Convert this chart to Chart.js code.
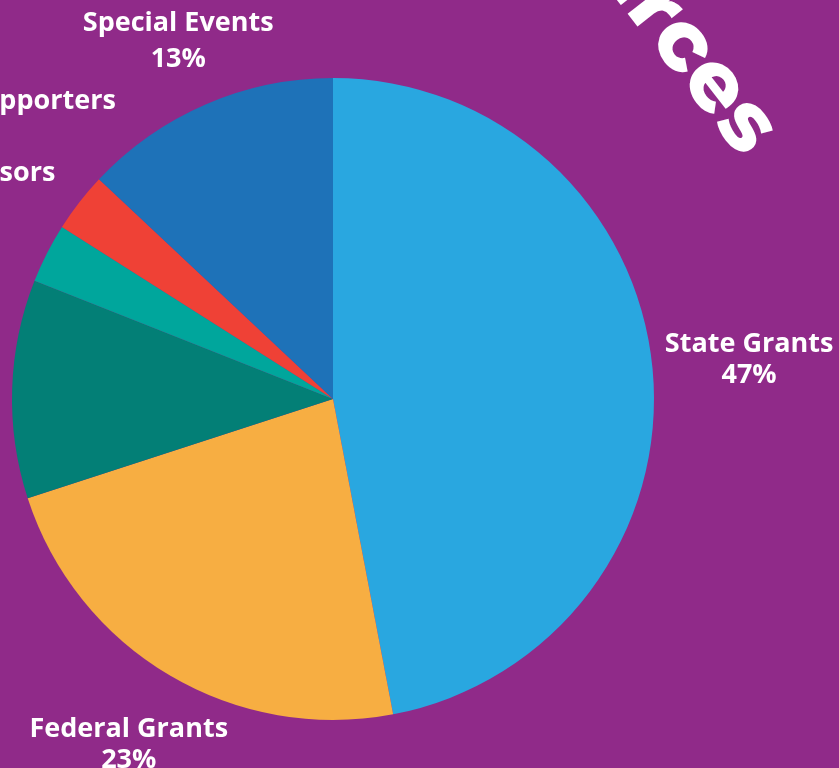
<!DOCTYPE html>
<html>
<head>
<meta charset="utf-8">
<script src="https://cdn.jsdelivr.net/npm/chart.js@4"></script>
<style>
  html, body { margin: 0; padding: 0; width: 839px; height: 768px; overflow: hidden; background: #902A89; }
  #wrap { position: absolute; left: -167px; top: -101px; width: 1000px; height: 1000px; }
  #title { position: absolute; left: 0; top: 0; width: 839px; height: 768px; pointer-events: none; }
</style>
</head>
<body>
<div id="wrap"><canvas id="c" width="1000" height="1000"></canvas></div>
<svg id="title" width="839" height="768" xmlns="http://www.w3.org/2000/svg">
  <text x="0" y="0" text-anchor="end" transform="translate(742,160) rotate(52)"
        fill="#ffffff" font-family="Montserrat, 'Open Sans', sans-serif" font-weight="800" font-size="84" letter-spacing="1">Funding Sources</text>
</svg>
<script>
const categories = ["State Grants", "Federal Grants", "Foundations", "Corporate Sponsors", "Individual Supporters", "Special Events"];
const shares = [47, 23, 11, 3, 3, 13];
const percentLabels = ["47%", "23%", "11%", "3%", "3%", "13%"];
const sliceColors = ["#29A7E0", "#F7AE42", "#037F76", "#00A69C", "#EF4136", "#1E72B8"];

const labelOpts = {
  distance: [1.302, 1.25, 1.43, 1.435, 1.43, 1.214],
  lineGap: [31, 31, 32, 33, 33, 36],
  font: "700 27px 'Open Sans', sans-serif",
  color: "#ffffff"
};

const outsideLabels = {
  id: "outsideLabels",
  afterDraw(chart, args, opts) {
    const ctx = chart.ctx;
    const meta = chart.getDatasetMeta(0);
    ctx.save();
    ctx.font = opts.font;
    ctx.fillStyle = opts.color;
    ctx.textAlign = "center";
    ctx.textBaseline = "middle";
    meta.data.forEach((arc, i) => {
      const p = arc.getProps(["x", "y", "startAngle", "endAngle", "outerRadius"], true);
      const mid = (p.startAngle + p.endAngle) / 2;
      const r = p.outerRadius * opts.distance[i];
      const cx = p.x + Math.cos(mid) * r;
      const cy = p.y + Math.sin(mid) * r;
      const g = opts.lineGap[i] / 2;
      ctx.fillText(chart.data.labels[i], cx, cy - g);
      ctx.fillText(percentLabels[i], cx, cy + g);
    });
    ctx.restore();
  }
};

new Chart(document.getElementById("c"), {
  type: "pie",
  data: {
    labels: categories,
    datasets: [{
      data: shares,
      backgroundColor: sliceColors,
      borderWidth: 0
    }]
  },
  options: {
    responsive: false,
    animation: false,
    layout: { padding: 179 },
    plugins: {
      legend: { display: false },
      tooltip: { enabled: false },
      outsideLabels: labelOpts
    }
  },
  plugins: [outsideLabels]
});
</script>
</body>
</html>
